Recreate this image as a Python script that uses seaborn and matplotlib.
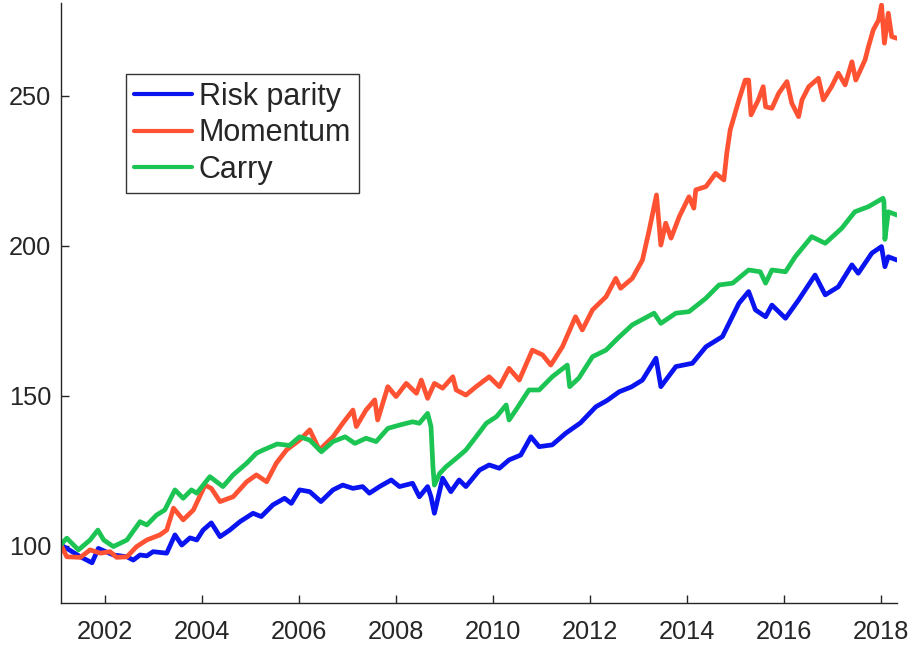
import matplotlib

matplotlib.use("Agg")

import matplotlib.pyplot as plt
import pandas as pd
import seaborn as sns

# values (year, index level)
rp_years = [2001.09, 2001.21, 2001.49, 2001.73, 2001.86, 2002.17, 2002.45, 2002.58, 2002.72, 2002.86,
            2002.99, 2003.27, 2003.44, 2003.58, 2003.75, 2003.89, 2004.02, 2004.19, 2004.37, 2004.57,
            2004.78, 2005.05, 2005.22, 2005.46, 2005.70, 2005.84, 2006.01, 2006.22, 2006.45, 2006.70,
            2006.90, 2007.11, 2007.31, 2007.45, 2007.66, 2007.90, 2008.07, 2008.34, 2008.48, 2008.65,
            2008.72, 2008.79, 2008.96, 2009.13, 2009.30, 2009.44, 2009.72, 2009.92, 2010.13, 2010.33,
            2010.57, 2010.78, 2010.95, 2011.22, 2011.50, 2011.80, 2012.12, 2012.35, 2012.60, 2012.85,
            2013.08, 2013.36, 2013.46, 2013.77, 2014.11, 2014.39, 2014.73, 2015.07, 2015.27, 2015.41,
            2015.62, 2015.75, 2016.03, 2016.30, 2016.64, 2016.85, 2017.12, 2017.40, 2017.53, 2017.81,
            2018.01, 2018.08, 2018.15, 2018.33]
rp_values = [100.3, 99.2, 96.4, 94.4, 99.2, 97.0, 96.4, 95.3, 97.0, 96.7,
             98.1, 97.6, 103.7, 100.3, 102.7, 102.0, 105.3, 107.7, 103.1, 105.3,
             108.1, 110.9, 109.8, 113.7, 115.9, 114.2, 118.7, 118.1, 114.8, 118.7,
             120.3, 119.2, 119.8, 117.6, 119.8, 122.0, 119.8, 120.9, 116.4, 119.8,
             116.4, 110.9, 122.6, 118.1, 122.0, 119.8, 125.3, 127.0, 125.9, 128.7,
             130.3, 136.4, 133.1, 133.7, 137.6, 141.0, 146.4, 148.5, 151.4, 153.0,
             155.3, 162.6, 153.1, 159.8, 160.9, 166.4, 169.8, 180.9, 184.8, 178.7,
             176.4, 180.3, 175.9, 182.0, 190.3, 183.7, 186.4, 193.7, 190.9, 197.6,
             199.8, 193.1, 196.4, 195.3]

mom_years = [2001.09, 2001.21, 2001.49, 2001.69, 2001.90, 2002.10, 2002.24, 2002.45, 2002.65, 2002.86,
             2003.13, 2003.27, 2003.41, 2003.61, 2003.82, 2004.06, 2004.19, 2004.37, 2004.64, 2004.92,
             2005.12, 2005.33, 2005.53, 2005.74, 2006.01, 2006.22, 2006.42, 2006.70, 2006.90, 2007.11,
             2007.18, 2007.38, 2007.56, 2007.62, 2007.83, 2008.00, 2008.21, 2008.42, 2008.52, 2008.65,
             2008.79, 2008.96, 2009.17, 2009.24, 2009.44, 2009.65, 2009.92, 2010.13, 2010.33, 2010.54,
             2010.81, 2011.02, 2011.19, 2011.43, 2011.70, 2011.84, 2012.05, 2012.33, 2012.53, 2012.63,
             2012.87, 2013.08, 2013.22, 2013.37, 2013.46, 2013.56, 2013.67, 2013.84, 2014.04, 2014.14,
             2014.18, 2014.39, 2014.59, 2014.76, 2014.82, 2014.89, 2015.07, 2015.20, 2015.27, 2015.32,
             2015.47, 2015.57, 2015.62, 2015.75, 2015.89, 2016.06, 2016.16, 2016.30, 2016.37, 2016.51,
             2016.71, 2016.81, 2016.98, 2017.12, 2017.26, 2017.40, 2017.48, 2017.67, 2017.74, 2017.84,
             2017.95, 2018.01, 2018.07, 2018.15, 2018.22, 2018.33]
mom_values = [100.3, 96.4, 96.2, 98.7, 97.6, 98.1, 96.2, 96.4, 99.8, 102.0,
              103.7, 105.3, 112.6, 108.7, 112.0, 120.3, 119.2, 114.8, 116.4, 121.4,
              123.7, 121.4, 127.6, 132.0, 135.3, 138.7, 132.0, 136.4, 140.9, 145.3,
              139.8, 145.3, 148.7, 142.0, 153.1, 149.8, 154.2, 150.9, 155.3, 149.2,
              154.2, 152.6, 156.4, 152.0, 150.3, 153.1, 156.4, 153.1, 159.2, 155.3,
              165.3, 163.7, 160.3, 166.4, 176.4, 172.0, 178.7, 183.1, 189.2, 185.9,
              189.2, 195.3, 205.3, 217.0, 200.3, 207.6, 202.6, 209.8, 216.4, 212.6,
              218.7, 219.8, 224.2, 222.0, 231.0, 238.7, 248.7, 255.3, 255.3, 243.7,
              248.7, 253.1, 246.4, 245.9, 250.9, 254.8, 247.6, 243.1, 248.7, 253.1,
              255.9, 248.7, 253.1, 257.6, 253.7, 261.4, 255.3, 262.0, 266.4, 272.0,
              275.3, 280.3, 267.6, 277.6, 269.8, 269.2]

carry_years = [2001.09, 2001.21, 2001.45, 2001.69, 2001.85, 2001.97, 2002.17, 2002.45, 2002.72, 2002.86,
               2003.06, 2003.23, 2003.44, 2003.61, 2003.78, 2003.89, 2004.16, 2004.43, 2004.64, 2004.92,
               2005.12, 2005.26, 2005.55, 2005.80, 2006.01, 2006.22, 2006.46, 2006.70, 2006.95, 2007.15,
               2007.38, 2007.59, 2007.83, 2008.07, 2008.34, 2008.48, 2008.65, 2008.72, 2008.76, 2008.79,
               2008.90, 2009.03, 2009.24, 2009.44, 2009.65, 2009.86, 2010.07, 2010.27, 2010.33, 2010.47,
               2010.74, 2010.95, 2011.22, 2011.53, 2011.58, 2011.77, 2012.05, 2012.33, 2012.57, 2012.87,
               2013.32, 2013.46, 2013.77, 2014.04, 2014.39, 2014.66, 2014.94, 2015.27, 2015.51, 2015.62,
               2015.75, 2016.03, 2016.23, 2016.57, 2016.85, 2017.19, 2017.46, 2017.74, 2018.04, 2018.06,
               2018.08, 2018.15, 2018.33]
carry_values = [100.5, 102.6, 98.7, 102.0, 105.3, 102.0, 99.8, 102.0, 108.1, 107.0,
                110.3, 112.0, 118.7, 115.9, 118.7, 117.6, 123.1, 119.8, 123.7, 127.6,
                130.9, 132.0, 134.0, 133.5, 136.4, 135.3, 131.4, 134.8, 136.4, 134.2,
                135.9, 134.8, 139.2, 140.3, 141.4, 140.9, 144.2, 139.8, 126.4, 120.3,
                124.2, 126.4, 129.2, 132.0, 136.4, 140.9, 143.1, 147.0, 142.0, 145.3,
                152.0, 152.0, 156.4, 160.3, 153.1, 156.0, 163.1, 165.3, 169.2, 173.7,
                177.6, 174.2, 177.6, 178.1, 182.6, 187.0, 187.6, 192.0, 191.4, 187.6,
                192.0, 191.4, 196.4, 203.1, 200.9, 205.9, 211.4, 213.1, 215.9, 214.8,
                202.2, 211.4, 210.3]

labels = ["Risk parity", "Momentum", "Carry"]
colors = ["#0a14f0", "#ff5233", "#1cc453"]
x_ticks = [2002, 2004, 2006, 2008, 2010, 2012, 2014, 2016, 2018]
y_ticks = [100, 150, 200, 250]

frames = []
for name, xs, ys in zip(labels, [rp_years, mom_years, carry_years], [rp_values, mom_values, carry_values]):
    frames.append(pd.DataFrame({"year": xs, "value": ys, "strategy": name}))
data = pd.concat(frames, ignore_index=True)

sns.set_style("ticks")
plt.rcParams["font.family"] = ["Liberation Sans", "DejaVu Sans"]
plt.rcParams["axes.edgecolor"] = "#262626"
plt.rcParams["xtick.color"] = "#262626"
plt.rcParams["ytick.color"] = "#262626"

fig = plt.figure(figsize=(9.13, 6.46), dpi=100)
ax = fig.add_axes([0.0668, 0.0666, 0.9157, 0.9288])
sns.lineplot(data=data, x="year", y="value", hue="strategy", hue_order=labels,
             palette=colors, estimator=None, sort=True, linewidth=3.4, ax=ax)

ax.set_xlim(2001.09, 2018.33)
ax.set_ylim(81, 281)
ax.set_xticks(x_ticks)
ax.set_yticks(y_ticks)
ax.set_xlabel("")
ax.set_ylabel("")
ax.tick_params(axis="both", direction="in", length=5.5, width=1, labelsize=18.3, labelcolor="#262626")
ax.tick_params(axis="x", pad=12)
ax.tick_params(axis="y", pad=7)
for side in ["top", "right"]:
    ax.spines[side].set_visible(False)
for side in ["left", "bottom"]:
    ax.spines[side].set_linewidth(1)

leg = ax.legend(loc="upper left", bbox_to_anchor=(0.078, 0.882), borderaxespad=0,
                fontsize=22, frameon=True, fancybox=False, edgecolor="black",
                handlelength=1.9, handletextpad=0.22, labelspacing=0.22, borderpad=0.26)
leg.get_frame().set_linewidth(1)
for line in leg.get_lines():
    line.set_linewidth(3)

fig.savefig("out.png", dpi=100)
